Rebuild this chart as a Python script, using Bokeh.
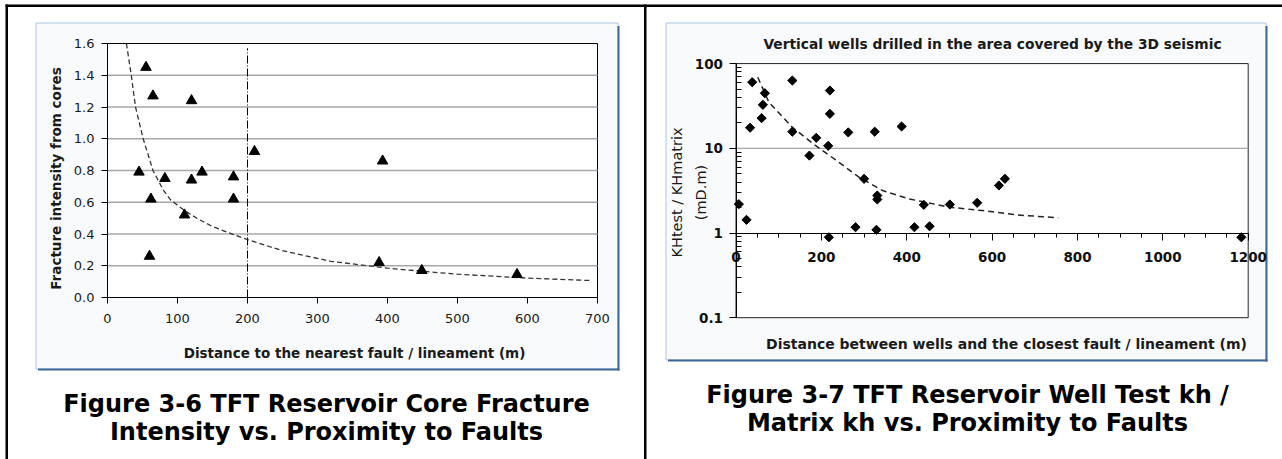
import math
from bokeh.plotting import figure
from bokeh.models import (Range1d, LogScale, LinearAxis, LogAxis, FixedTicker,
                          PrintfTickFormatter, Label)
from bokeh.embed import file_html
from bokeh.resources import INLINE

# ---------------- Left chart data (Figure 3-6) ----------------
core_distance = [55, 65, 120, 210, 393, 45, 82, 120, 135, 180, 180, 62, 110, 60, 388, 449, 585]
core_intensity = [1.45, 1.27, 1.24, 0.92, 0.86, 0.79, 0.75, 0.74, 0.79, 0.76, 0.62, 0.62,
                  0.52, 0.26, 0.22, 0.17, 0.145]
core_trend_x = [27, 34, 40, 51, 65, 80, 90, 110, 130, 150, 181, 200, 250, 319, 400, 450, 500, 600, 690]
core_trend_y = [1.6, 1.4, 1.2, 1.0, 0.8, 0.675, 0.615, 0.548, 0.493, 0.447, 0.395, 0.365,
                0.295, 0.228, 0.185, 0.165, 0.147, 0.122, 0.107]
core_ref_x = [200]
core_ref_top = [1.57]
core_x_ticks = [0, 100, 200, 300, 400, 500, 600, 700]
core_y_ticks = [0.0, 0.2, 0.4, 0.6, 0.8, 1.0, 1.2, 1.4, 1.6]
core_y_grid = [0.2, 0.4, 0.6, 0.8, 1.0, 1.2, 1.4]
core_x_lim = (0, 700)
core_y_lim = (0.0, 1.6)

# ---------------- Right chart data (Figure 3-7) ----------------
well_distance = [6.6, 24.6, 33, 38, 60, 63, 67.6, 132, 132, 172, 188, 216, 217.5, 220, 220,
                 263, 280, 300, 325, 329, 331, 331, 388, 418, 440, 453.5, 501, 565, 616, 630, 1184]
well_kh_ratio = [2.19, 1.43, 17.5, 60.3, 22.7, 32.6, 44.7, 63.1, 15.7, 8.2, 13.3, 10.7, 0.89,
                 48.1, 25.5, 15.4, 1.17, 4.36, 15.7, 1.09, 2.77, 2.49, 18.1, 1.17, 2.15, 1.20,
                 2.17, 2.27, 3.64, 4.36, 0.89]
well_trend_x = [51, 77, 132, 186, 241, 288, 343, 405, 444, 499, 577, 655, 755]
well_trend_y = [69, 35, 17.7, 10.8, 6.85, 4.56, 3.18, 2.53, 2.31, 2.02, 1.84, 1.64, 1.51]
well_x_ticks = [0, 200, 400, 600, 800, 1000, 1200]
well_x_minor = [v for v in range(0, 1201, 50) if v % 200]
well_y_ticks = [0.1, 1, 10, 100]
well_y_minor = [0.2, 0.3, 0.4, 0.5, 0.6, 0.7, 0.8, 0.9, 2, 3, 4, 5, 6, 7, 8, 9,
                20, 30, 40, 50, 60, 70, 80, 90]
well_y_grid = [10]
well_x_lim = (0, 1200)
well_y_lim = (0.1, 100)

# ---------------- page layout (pixels) ----------------
W, H = 1282, 459
L_AREA = (107, 597, 43, 297)        # left, right, top, bottom of left plot area
R_AREA = (735.5, 1247.7, 63.1, 317.2)


def x_range_for(px0, px1, v0, v1):
    k = (px1 - px0) / (v1 - v0)
    return Range1d(v0 - px0 / k, v0 + (W - px0) / k)


def y_range_for(py_bottom, py_top, v0, v1):
    k = (py_bottom - py_top) / (v1 - v0)
    return v0 - (H - py_bottom) / k, v0 + py_bottom / k


p = figure(width=W, height=H, x_range=Range1d(0, W), y_range=Range1d(H, 0),
           x_axis_type=None, y_axis_type=None, toolbar_location=None,
           output_backend="svg", min_border=0, outline_line_color=None,
           background_fill_color="white", border_fill_color="white")

ly0, ly1 = y_range_for(L_AREA[3], L_AREA[2], core_y_lim[0], core_y_lim[1])
ry0, ry1 = y_range_for(R_AREA[3], R_AREA[2], math.log10(well_y_lim[0]), math.log10(well_y_lim[1]))
p.extra_x_ranges = {
    "lx": x_range_for(L_AREA[0], L_AREA[1], core_x_lim[0], core_x_lim[1]),
    "rx": x_range_for(R_AREA[0], R_AREA[1], well_x_lim[0], well_x_lim[1]),
}
p.extra_y_ranges = {
    "ly": Range1d(ly0, ly1),
    "ry": Range1d(10 ** ry0, 10 ** ry1),
}
p.extra_y_scales = {"ry": LogScale()}

# ---------------- page decoration ----------------
p.quad(left=[5], right=[W], top=[4], bottom=[6.5], fill_color="black", line_color=None)
p.quad(left=[5], right=[7.5], top=[4], bottom=[H], fill_color="black", line_color=None)
p.quad(left=[643.5], right=[646], top=[4], bottom=[H], fill_color="black", line_color=None)

box_fill = "#f8fafc"
box_light = "#a9c4e2"
box_dark = "#3a6795"
for (bl, br, bt, bb) in [(35.5, 617.5, 22.5, 368.5), (665.5, 1265.5, 22.5, 359.5)]:
    p.quad(left=[bl], right=[br], top=[bt], bottom=[bb], fill_color=box_fill,
           line_color=box_light, line_width=1)
    p.segment(x0=[br + 0.5], x1=[br + 0.5], y0=[bt + 3], y1=[bb + 1.5], line_color=box_dark, line_width=2)
    p.segment(x0=[bl + 2], x1=[br + 1.5], y0=[bb + 0.5], y1=[bb + 0.5], line_color=box_dark, line_width=2)

# ---------------- left chart ----------------
p.quad(left=[core_x_lim[0]], right=[core_x_lim[1]], bottom=[core_y_lim[0]], top=[core_y_lim[1]],
       x_range_name="lx", y_range_name="ly", fill_color="white", line_color="black", line_width=1)
p.segment(x0=core_x_lim[0], x1=core_x_lim[1], y0=core_y_grid, y1=core_y_grid,
          x_range_name="lx", y_range_name="ly", line_color="#a8a8a8", line_width=1.3)
p.segment(x0=core_ref_x, x1=core_ref_x, y0=[core_y_lim[0]], y1=core_ref_top,
          x_range_name="lx", y_range_name="ly", line_color="black", line_width=1,
          line_dash="8 2 1 2")
p.line(core_trend_x, core_trend_y, x_range_name="lx", y_range_name="ly",
       line_color="#333333", line_width=1.3, line_dash="5 3")
p.scatter(core_distance, core_intensity, x_range_name="lx", y_range_name="ly",
          marker="triangle", size=10.5, fill_color="black", line_color="black")

lxa = LinearAxis(x_range_name="lx", y_range_name="ly", fixed_location=core_y_lim[0],
                 bounds=core_x_lim, ticker=FixedTicker(ticks=core_x_ticks),
                 major_tick_in=0, major_tick_out=6, minor_tick_in=0, minor_tick_out=0,
                 major_label_standoff=10, major_label_text_font="DejaVu Sans",
                 major_label_text_font_size="13px", major_label_text_color="#1a1a1a",
                 axis_line_color="black", major_tick_line_color="black")
p.add_layout(lxa, "below")
lya = LinearAxis(x_range_name="lx", y_range_name="ly", fixed_location=core_x_lim[0],
                 bounds=core_y_lim, ticker=FixedTicker(ticks=core_y_ticks),
                 formatter=PrintfTickFormatter(format="%.1f"),
                 major_tick_in=0, major_tick_out=6, minor_tick_in=0, minor_tick_out=0,
                 major_label_standoff=7, major_label_text_font="DejaVu Sans",
                 major_label_text_font_size="13px", major_label_text_color="#1a1a1a",
                 axis_line_color="black", major_tick_line_color="black")
p.add_layout(lya, "left")

p.add_layout(Label(x=55, y=178, text="Fracture intensity from cores", angle=math.pi / 2,
                   text_align="center", text_baseline="middle", text_font="DejaVu Sans",
                   text_font_style="bold", text_font_size="13.5px", text_color="#1a1a1a"))
p.add_layout(Label(x=354, y=352, text="Distance to the nearest fault / lineament (m)",
                   text_align="center", text_baseline="middle", text_font="DejaVu Sans",
                   text_font_style="bold", text_font_size="13.5px", text_color="#1a1a1a"))

# ---------------- right chart ----------------
p.quad(left=[well_x_lim[0]], right=[well_x_lim[1]], bottom=[well_y_lim[0]], top=[well_y_lim[1]],
       x_range_name="rx", y_range_name="ry", fill_color="white", line_color="#222222", line_width=1)
p.segment(x0=well_x_lim[0], x1=well_x_lim[1], y0=well_y_grid, y1=well_y_grid,
          x_range_name="rx", y_range_name="ry", line_color="#a8a8a8", line_width=1.3)
p.line(well_trend_x, well_trend_y, x_range_name="rx", y_range_name="ry",
       line_color="#222222", line_width=1.5, line_dash="6 4")
p.scatter(well_distance, well_kh_ratio, x_range_name="rx", y_range_name="ry",
          marker="square", angle=math.pi / 4, size=6.5, fill_color="black", line_color="black")

rxa = LinearAxis(x_range_name="rx", y_range_name="ry", fixed_location=1,
                 bounds=well_x_lim, ticker=FixedTicker(ticks=well_x_ticks, minor_ticks=well_x_minor),
                 major_tick_in=0, major_tick_out=7, minor_tick_in=0, minor_tick_out=4,
                 major_label_standoff=12, major_label_text_font="DejaVu Sans",
                 major_label_text_font_style="bold",
                 major_label_text_font_size="13.5px", major_label_text_color="#111111",
                 axis_line_color="black", major_tick_line_color="black",
                 minor_tick_line_color="black")
p.add_layout(rxa, "below")
rya = LogAxis(x_range_name="rx", y_range_name="ry", fixed_location=well_x_lim[0],
              bounds=well_y_lim, ticker=FixedTicker(ticks=well_y_ticks, minor_ticks=well_y_minor),
              formatter=PrintfTickFormatter(format="%g"),
              major_tick_in=0, major_tick_out=7, minor_tick_in=5, minor_tick_out=0,
              major_label_standoff=6, major_label_text_font="DejaVu Sans",
              major_label_text_font_style="bold",
              major_label_text_font_size="13.5px", major_label_text_color="#111111",
              axis_line_color="black", major_tick_line_color="black",
              minor_tick_line_color="black")
p.add_layout(rya, "left")

p.add_layout(Label(x=992, y=43, text="Vertical wells drilled in the area covered by the 3D seismic",
                   text_align="center", text_baseline="middle", text_font="DejaVu Sans",
                   text_font_style="bold", text_font_size="13.8px", text_color="#1a1a1a"))
p.add_layout(Label(x=676.7, y=192, text="KHtest / KHmatrix", angle=math.pi / 2,
                   text_align="center", text_baseline="middle", text_font="DejaVu Sans",
                   text_font_size="14.5px", text_color="#1a1a1a"))
p.add_layout(Label(x=700, y=192, text="(mD.m)", angle=math.pi / 2,
                   text_align="center", text_baseline="middle", text_font="DejaVu Sans",
                   text_font_size="14.5px", text_color="#1a1a1a"))
p.add_layout(Label(x=1006, y=343, text="Distance between wells and the closest fault / lineament (m)",
                   text_align="center", text_baseline="middle", text_font="DejaVu Sans",
                   text_font_style="bold", text_font_size="14px", text_color="#1a1a1a"))

# ---------------- captions ----------------
captions = [
    (326, 403, "Figure 3-6 TFT Reservoir Core Fracture"),
    (326, 431, "Intensity vs. Proximity to Faults"),
    (967, 394, "Figure 3-7 TFT Reservoir Well Test kh /"),
    (967, 422, "Matrix kh vs. Proximity to Faults"),
]
for cx, cy, txt in captions:
    p.add_layout(Label(x=cx, y=cy, text=txt, text_align="center", text_baseline="middle",
                       text_font="DejaVu Sans", text_font_style="bold",
                       text_font_size="24px", text_color="black"))

open("out.html", "w").write(file_html(p, INLINE))
